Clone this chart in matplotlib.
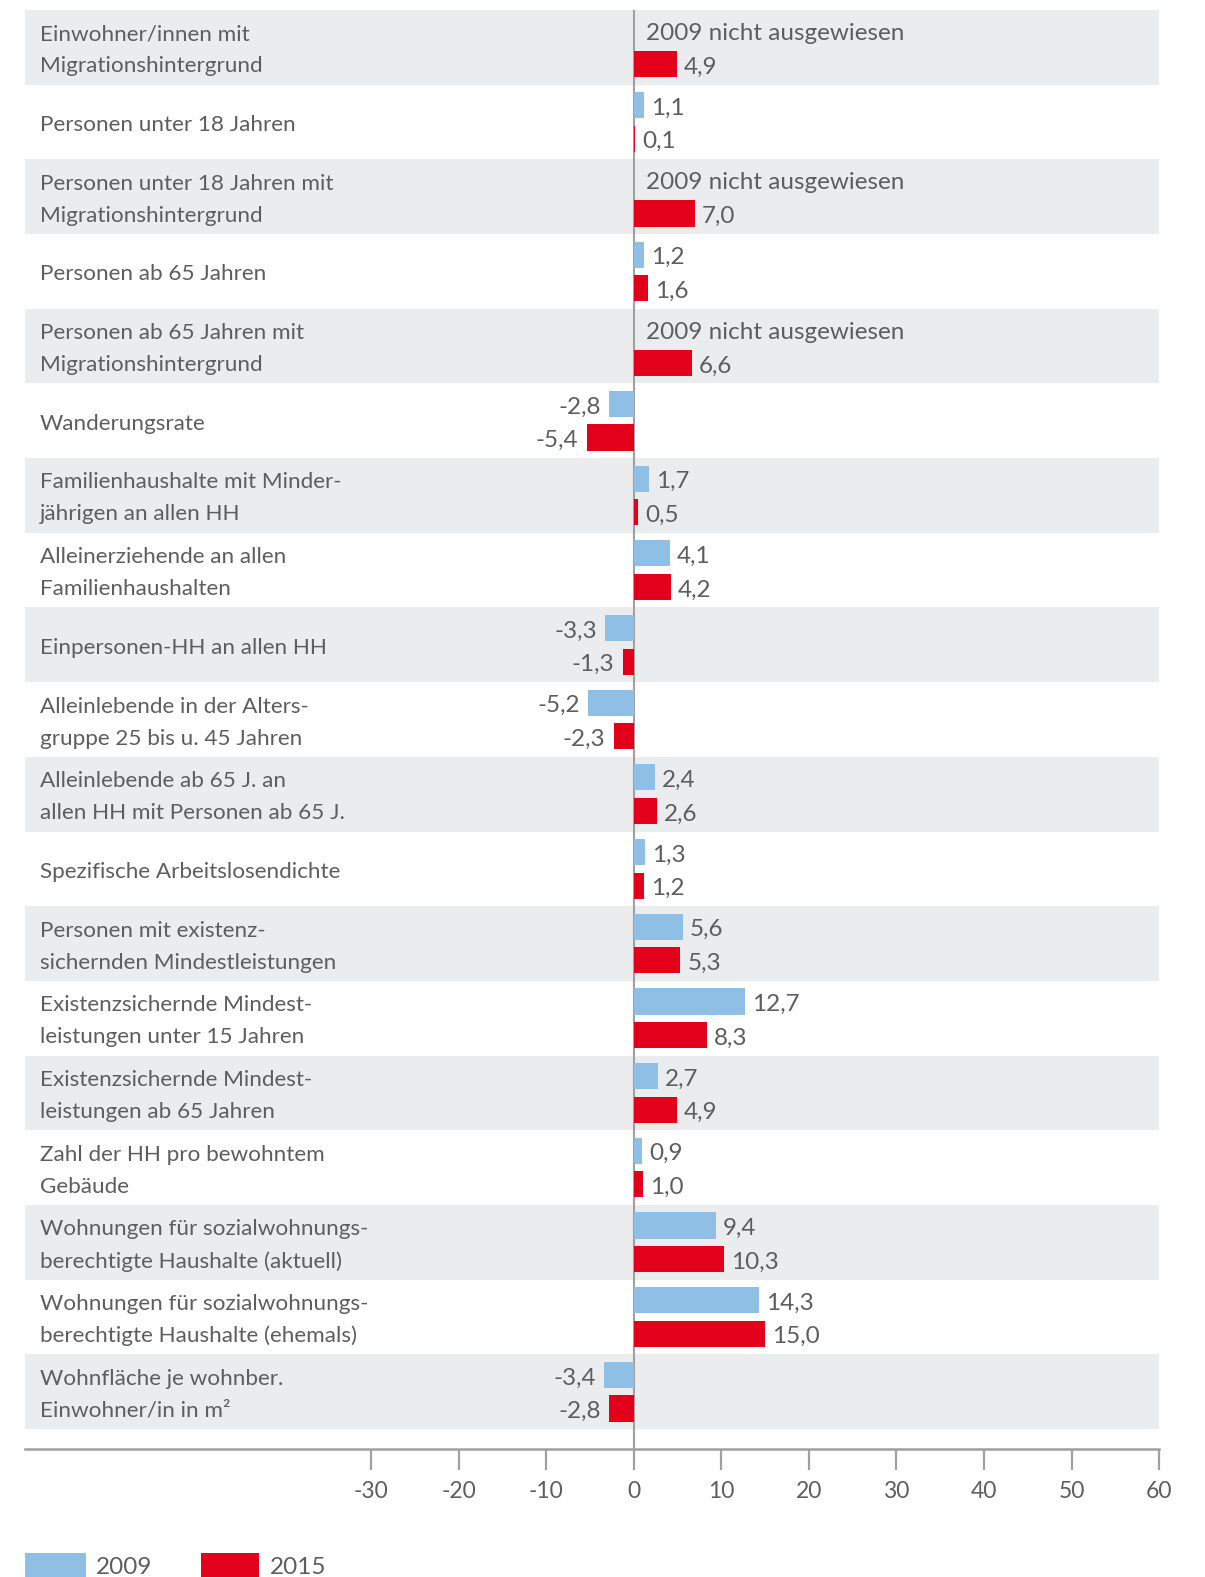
import matplotlib
matplotlib.use("Agg")
import matplotlib.pyplot as plt
from matplotlib.patches import Rectangle

# ----------------------------------------------------
# Data
# ----------------------------------------------------

labels = [
    "Einwohner/innen mit\nMigrationshintergrund",
    "Personen unter 18 Jahren",
    "Personen unter 18 Jahren mit\nMigrationshintergrund",
    "Personen ab 65 Jahren",
    "Personen ab 65 Jahren mit\nMigrationshintergrund",
    "Wanderungsrate",
    "Familienhaushalte mit Minder-\njährigen an allen HH",
    "Alleinerziehende an allen\nFamilienhaushalten",
    "Einpersonen-HH an allen HH",
    "Alleinlebende in der Alters-\ngruppe 25 bis u. 45 Jahren",
    "Alleinlebende ab 65 J. an\nallen HH mit Personen ab 65 J.",
    "Spezifische Arbeitslosendichte",
    "Personen mit existenz-\nsichernden Mindestleistungen",
    "Existenzsichernde Mindest-\nleistungen unter 15 Jahren",
    "Existenzsichernde Mindest-\nleistungen ab 65 Jahren",
    "Zahl der HH pro bewohntem\nGebäude",
    "Wohnungen für sozialwohnungs-\nberechtigte Haushalte (aktuell)",
    "Wohnungen für sozialwohnungs-\nberechtigte Haushalte (ehemals)",
    "Wohnfläche je wohnber.\nEinwohner/in in m²",
]

values_2009 = [None, 1.1, None, 1.2, None, -2.8, 1.7, 4.1, -3.3, -5.2,
               2.4, 1.3, 5.6, 12.7, 2.7, 0.9, 9.4, 14.3, -3.4]
values_2015 = [4.9, 0.1, 7.0, 1.6, 6.6, -5.4, 0.5, 4.2, -1.3, -2.3,
               2.6, 1.2, 5.3, 8.3, 4.9, 1.0, 10.3, 15.0, -2.8]

x_ticks = [-30, -20, -10, 0, 10, 20, 30, 40, 50, 60]
missing_text = "2009 nicht ausgewiesen"

# ----------------------------------------------------
# Style
# ----------------------------------------------------

BLUE = "#8fbfe4"
RED = "#e2001a"
BAND = "#ebeced"
TEXT = "#5e5e5e"
AXIS = "#a0a0a0"

LABEL_SIZE = 16.2
VALUE_SIZE = 17.5
TICK_SIZE = 16.5

plt.rcParams["font.family"] = ["Lato", "DejaVu Sans"]

W, H = 1205, 1577
fig = plt.figure(figsize=(W / 100, H / 100), dpi=100)

# axes area in pixels
left_px, right_px = 25, 1159
top_px, axis_px = 10, 1449
row_px = (1429 - top_px) / len(labels)

ax = fig.add_axes([
    left_px / W,
    (H - axis_px) / H,
    (right_px - left_px) / W,
    (axis_px - top_px) / H,
])

n = len(labels)
px_per_unit = (right_px - 634) / 60
x_min = -(634 - left_px) / px_per_unit
ax.set_xlim(x_min, 60)
ax.set_ylim(n + (axis_px - 1429) / row_px, 0)

# text sits a little lower than the geometric centre
text_dy = 3 / row_px

# alternating background bands
for i in range(n):
    if i % 2 == 0:
        ax.axhspan(i, i + 1, color=BAND, lw=0, zorder=0)

bar_h = 0.35
off = 0.225


def value_label(v, y):
    ax.annotate(f"{v:.1f}".replace(".", ","), (v, y + text_dy),
                xytext=(5 if v >= 0 else -6, 0), textcoords="offset points",
                ha="left" if v >= 0 else "right", va="center",
                fontsize=VALUE_SIZE, color=TEXT)


for i, (v09, v15) in enumerate(zip(values_2009, values_2015)):
    yc = i + 0.5
    if v09 is None:
        ax.text(12 / px_per_unit, yc - off + text_dy, missing_text, ha="left",
                va="center", fontsize=VALUE_SIZE, color=TEXT)
    else:
        ax.barh(yc - off, v09, height=bar_h, color=BLUE, zorder=2)
        value_label(v09, yc - off)
    ax.barh(yc + off, v15, height=bar_h, color=RED, zorder=2)
    value_label(v15, yc + off)

    # category label, one line at a time
    lines = labels[i].split("\n")
    lx = x_min + 15 / px_per_unit
    if len(lines) == 1:
        ax.text(lx, yc + text_dy, lines[0], ha="left", va="center",
                fontsize=LABEL_SIZE, color=TEXT)
    else:
        for k, line in enumerate(lines):
            ax.text(lx, yc + text_dy + (k - 0.5) * 32 / row_px, line,
                    ha="left", va="center", fontsize=LABEL_SIZE, color=TEXT)

# zero line (behind the bars, so tiny bars stay visible)
ax.axvline(0, color=AXIS, lw=1.5, zorder=1)

# axis styling
for side in ["top", "right", "left"]:
    ax.spines[side].set_visible(False)
ax.spines["bottom"].set_color(AXIS)
ax.spines["bottom"].set_linewidth(1.8)
ax.set_yticks([])
ax.set_xticks(x_ticks)
ax.set_xticklabels([str(t) for t in x_ticks])
ax.tick_params(axis="x", direction="out", length=15, width=1.6, color=AXIS,
               pad=8, labelsize=TICK_SIZE, labelcolor=TEXT)
ax.patch.set_visible(False)

# legend at the bottom
leg_y0 = (H - 1577) / H
leg_h = (1577 - 1553) / H
fig.add_artist(Rectangle((25 / W, leg_y0), 61 / W, leg_h,
                         transform=fig.transFigure, color=BLUE, lw=0))
fig.text(96 / W, (H - 1567) / H, "2009", ha="left", va="center",
         fontsize=VALUE_SIZE, color=TEXT)
fig.add_artist(Rectangle((201 / W, leg_y0), 58 / W, leg_h,
                         transform=fig.transFigure, color=RED, lw=0))
fig.text(270 / W, (H - 1567) / H, "2015", ha="left", va="center",
         fontsize=VALUE_SIZE, color=TEXT)

fig.savefig("out.png", dpi=100)
